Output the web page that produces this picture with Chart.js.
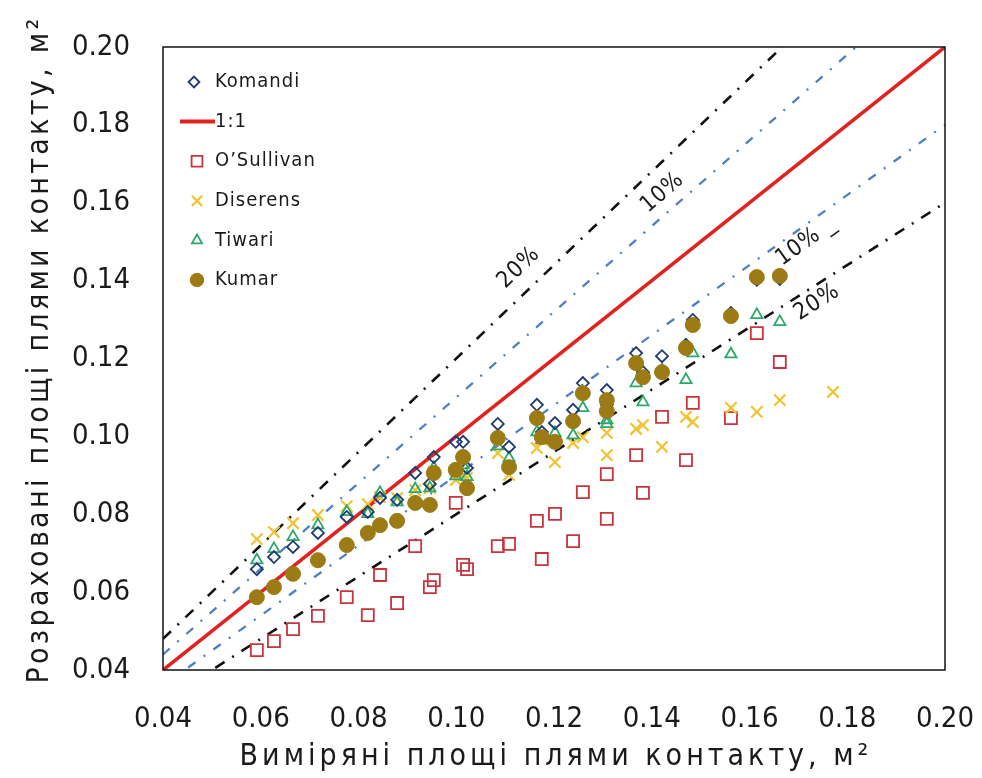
<!DOCTYPE html>
<html>
<head>
<meta charset="utf-8">
<title>Contact patch area</title>
<script src="https://cdn.jsdelivr.net/npm/chart.js@4.4.1/dist/chart.umd.min.js"></script>
<style>
  html, body { margin: 0; padding: 0; background: #fff; }
  #wrap { width: 982px; height: 778px; position: relative; }
</style>
</head>
<body>
<div id="wrap"><canvas id="chart"></canvas></div>
<script>
// Measured contact patch areas, m2 (x for every model; last one only has a Diserens value)
var measured = [0.0592, 0.0627, 0.0666, 0.0717, 0.0776, 0.0819, 0.0844, 0.0879, 0.0916, 0.0946,
                0.0954, 0.0999, 0.1014, 0.1022, 0.1085, 0.1108, 0.1165, 0.1175, 0.1202, 0.1239,
                0.1259, 0.1308, 0.1308, 0.1368, 0.1382, 0.1421, 0.1470, 0.1484, 0.1562, 0.1615,
                0.1662, 0.1771];

// Calculated areas, m2
var komandi   = [0.0659, 0.0690, 0.0716, 0.0752, 0.0793, 0.0806, 0.0842, 0.0837, 0.0906, 0.0878,
                 0.0947, 0.0986, 0.0986, 0.0919, 0.1032, 0.0973, 0.1081, 0.1011, 0.1034, 0.1068,
                 0.1137, 0.1119, 0.1081, 0.1214, 0.1165, 0.1206, 0.1235, 0.1299, 0.1317, 0.1402,
                 0.1404];
var osullivan = [0.0451, 0.0474, 0.0505, 0.0539, 0.0587, 0.0541, 0.0644, 0.0572, 0.0718, 0.0613,
                 0.0631, 0.0829, 0.0670, 0.0659, 0.0718, 0.0724, 0.0783, 0.0685, 0.0801, 0.0731,
                 0.0857, 0.0903, 0.0788, 0.0952, 0.0855, 0.1050, 0.0939, 0.1086, 0.1047, 0.1265,
                 0.1191];
var diserens  = [0.0736, 0.0754, 0.0777, 0.0798, 0.0821, 0.0826, 0.0844, 0.0842, 0.0862, 0.0867,
                 0.0908, 0.0888, 0.0898, 0.0893, 0.0957, 0.0901, 0.0970, 0.0991, 0.0934, 0.0983,
                 0.0998, 0.1009, 0.0952, 0.1019, 0.1029, 0.0973, 0.1050, 0.1037, 0.1073, 0.1063,
                 0.1093, 0.1114];
var tiwari    = [0.0682, 0.0711, 0.0742, 0.0772, 0.0806, 0.0801, 0.0855, 0.0831, 0.0865, 0.0867,
                 0.0919, 0.0898, 0.0926, 0.0896, 0.0975, 0.0944, 0.1011, 0.0991, 0.1009, 0.1003,
                 0.1073, 0.1042, 0.1032, 0.1137, 0.1088, 0.1170, 0.1145, 0.1214, 0.1211, 0.1312,
                 0.1294];
var kumar     = [0.0587, 0.0613, 0.0647, 0.0682, 0.0721, 0.0752, 0.0772, 0.0783, 0.0829, 0.0824,
                 0.0906, 0.0914, 0.0947, 0.0867, 0.0996, 0.0921, 0.1047, 0.0998, 0.0986, 0.1039,
                 0.1111, 0.1093, 0.1065, 0.1188, 0.1152, 0.1165, 0.1227, 0.1286, 0.1309, 0.1409,
                 0.1412];

var axisRange  = [0.04, 0.20];
var tickStep   = 0.02;
var tickLabels = ['0.04', '0.06', '0.08', '0.10', '0.12', '0.14', '0.16', '0.18', '0.20'];

// 1:1 line plus +-10 % and +-20 % bands
var guideRatios = [1.2, 1.1, 0.9, 0.8];

var xTitle = 'Виміряні площі плями контакту, м²';
var yTitle = 'Розраховані площі плями контакту, м²';

var FONT = '"Liberation Sans Narrow", "DejaVu Sans Condensed", "Liberation Sans", sans-serif';
var TEXT = '#1a1a1a';

function pairs(ys) {
    return ys.map(function(y, i) { return {x: measured[i], y: y}; });
}

function ratioLine(r) {
    return [{x: axisRange[0], y: r * axisRange[0]}, {x: axisRange[1], y: r * axisRange[1]}];
}

var series = {
    komandi:   {label: 'Komandi',    data: pairs(komandi),   pointStyle: 'rectRot',  pointRadius: 6,
                borderColor: '#1f3a72', backgroundColor: 'rgba(0,0,0,0)', borderWidth: 1.8, order: 3},
    osullivan: {label: 'O\u2019Sullivan', data: pairs(osullivan), pointStyle: 'rect', pointRadius: 8.5,
                borderColor: '#c9333d', backgroundColor: 'rgba(0,0,0,0)', borderWidth: 1.8, order: 6},
    diserens:  {label: 'Diserens',   data: pairs(diserens),  pointStyle: 'crossRot', pointRadius: 8,
                borderColor: '#f2c331', backgroundColor: 'rgba(0,0,0,0)', borderWidth: 2.2, order: 5},
    tiwari:    {label: 'Tiwari',     data: pairs(tiwari),    pointStyle: 'triangle', pointRadius: 6.5,
                borderColor: '#2da86b', backgroundColor: 'rgba(0,0,0,0)', borderWidth: 1.8, order: 4},
    kumar:     {label: 'Kumar',      data: pairs(kumar),     pointStyle: 'circle',   pointRadius: 7.5,
                borderColor: '#9c7a14', backgroundColor: '#9c7a14', borderWidth: 1, order: 1}
};

var datasets = [];

guideRatios.forEach(function(r) {
    var wide = Math.abs(r - 1) > 0.15;
    datasets.push({
        label: (wide ? '20%' : '10%'),
        data: ratioLine(r),
        showLine: true,
        pointRadius: 0,
        borderColor: wide ? '#111111' : '#4f7fc2',
        borderWidth: wide ? 2.6 : 2.3,
        borderDash: wide ? [11, 9, 2, 9] : [9, 10, 2, 10],
        clip: 0,
        order: 20
    });
});

datasets.push({
    label: '1:1',
    data: ratioLine(1),
    showLine: true,
    pointRadius: 0,
    borderColor: '#e2221f',
    borderWidth: 3.6,
    clip: 0,
    order: 10
});

['osullivan', 'diserens', 'tiwari', 'komandi', 'kumar'].forEach(function(k) {
    var s = series[k];
    s.pointHoverRadius = s.pointRadius;
    datasets.push(s);
});

// ── Plugins ─────────────────────────────────────────────────────────────

var framePlugin = {
    id: 'frame',
    afterDatasetsDraw: function(chart) {
        var a = chart.chartArea, c = chart.ctx;
        c.save();
        c.strokeStyle = '#111';
        c.lineWidth = 1.5;
        c.strokeRect(a.left, a.top, a.right - a.left, a.bottom - a.top);
        c.restore();
    }
};

// "10%" / "20%" notes along the guide lines
var guideNotes = [
    {text: '20%',   ratio: 1.2, at: 0.1128, dy: -31},
    {text: '10%',   ratio: 1.1, at: 0.1422, dy: -24},
    {text: '10% _', ratio: 0.9, at: 0.1716, dy: 17},
    {text: '20%',   ratio: 0.8, at: 0.1738, dy: 18}
];

var notePlugin = {
    id: 'notes',
    afterDatasetsDraw: function(chart) {
        var c = chart.ctx, xs = chart.scales.x, ys = chart.scales.y;
        c.save();
        c.font = '23px ' + FONT;
        c.fillStyle = TEXT;
        c.textAlign = 'center';
        c.textBaseline = 'middle';
        c.letterSpacing = '1px';
        guideNotes.forEach(function(n) {
            var px = xs.getPixelForValue(n.at);
            var py = ys.getPixelForValue(n.ratio * n.at) + n.dy;
            var ang = Math.atan2(ys.getPixelForValue(n.ratio * axisRange[1]) - ys.getPixelForValue(n.ratio * axisRange[0]),
                                 xs.getPixelForValue(axisRange[1]) - xs.getPixelForValue(axisRange[0]));
            c.save();
            c.translate(px, py);
            c.rotate(ang);
            c.fillText(n.text, 0, 0);
            c.restore();
        });
        c.restore();
    }
};

var legendOrder = ['komandi', 'line', 'osullivan', 'diserens', 'tiwari', 'kumar'];

var legendPlugin = {
    id: 'innerLegend',
    afterDatasetsDraw: function(chart) {
        var c = chart.ctx;
        var x0 = 197, textX = 215, y0 = 82, step = 39.6;
        c.save();
        c.font = '20px ' + FONT;
        c.textBaseline = 'middle';
        c.letterSpacing = '1px';
        legendOrder.forEach(function(k, i) {
            var y = y0 + i * step;
            var label;
            if (k === 'line') {
                c.strokeStyle = '#e2221f';
                c.lineWidth = 4;
                c.beginPath();
                c.moveTo(180, y);
                c.lineTo(textX, y);
                c.stroke();
                label = '1:1';
            } else {
                var s = series[k];
                c.strokeStyle = s.borderColor;
                c.fillStyle = s.backgroundColor;
                c.lineWidth = s.borderWidth;
                Chart.helpers.drawPoint(c, {pointStyle: s.pointStyle, radius: s.pointRadius * 0.9,
                    rotation: 0, borderWidth: s.borderWidth}, k === 'komandi' ? x0 - 3 : x0, y);
                label = s.label;
            }
            c.fillStyle = TEXT;
            c.fillText(label, textX, y);
        });
        c.restore();
    }
};

function spacedText(c, text, target) {
    c.letterSpacing = '0px';
    var w = c.measureText(text).width;
    c.letterSpacing = Math.max(0, (target - w) / text.length).toFixed(2) + 'px';
}

var titlePlugin = {
    id: 'axisTitles',
    afterDraw: function(chart) {
        var c = chart.ctx, a = chart.chartArea;
        c.save();
        c.font = '30px ' + FONT;
        c.fillStyle = TEXT;
        c.textAlign = 'center';
        c.textBaseline = 'middle';
        spacedText(c, xTitle, 633);
        c.fillText(xTitle, (a.left + a.right) / 2 + 2, 757);
        c.translate(40, (a.top + a.bottom) / 2 - 9);
        c.rotate(-Math.PI / 2);
        spacedText(c, yTitle, 668);
        c.fillText(yTitle, 0, 0);
        c.restore();
    }
};

function tickLabel(v) {
    var i = Math.round((v - axisRange[0]) / tickStep);
    return tickLabels[i];
}

var tickFont = {family: FONT, size: 29};

new Chart(document.getElementById('chart'), {
    type: 'scatter',
    data: {datasets: datasets},
    options: {
        responsive: true,
        maintainAspectRatio: false,
        animation: false,
        events: [],
        layout: {padding: {top: 47, right: 37, left: 0, bottom: 0}},
        plugins: {
            legend: {display: false},
            tooltip: {enabled: false}
        },
        scales: {
            x: {
                type: 'linear',
                min: axisRange[0],
                max: axisRange[1],
                ticks: {stepSize: tickStep, padding: 32, font: tickFont, color: TEXT,
                        callback: tickLabel, maxRotation: 0, autoSkip: false},
                grid: {display: false, drawTicks: false},
                border: {display: false},
                afterFit: function(s) {
                    s.height = 108;
                    s.paddingLeft = 0;
                    s.paddingRight = 0;
                }
            },
            y: {
                type: 'linear',
                min: axisRange[0],
                max: axisRange[1],
                ticks: {stepSize: tickStep, padding: 33, font: tickFont, color: TEXT,
                        callback: tickLabel, autoSkip: false},
                grid: {display: false, drawTicks: false},
                border: {display: false},
                afterFit: function(s) {
                    s.width = 163;
                    s.paddingTop = 0;
                    s.paddingBottom = 0;
                }
            }
        }
    },
    plugins: [framePlugin, notePlugin, legendPlugin, titlePlugin]
});
</script>
</body>
</html>
